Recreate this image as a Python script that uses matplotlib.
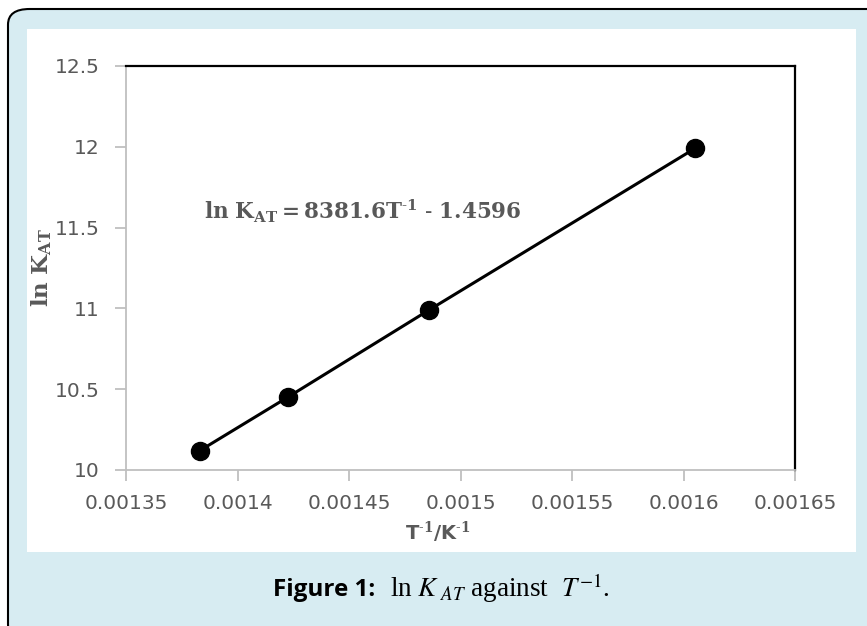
import matplotlib
matplotlib.use("Agg")
import matplotlib.pyplot as plt
from matplotlib.patches import FancyBboxPatch, Rectangle

# Data
inv_T = [1/723, 1/703, 1/673, 1/623]
ln_K = [10.12, 10.45, 10.99, 11.99]
x_ticks = [0.00135, 0.0014, 0.00145, 0.0015, 0.00155, 0.0016, 0.00165]
x_tick_labels = ["0.00135", "0.0014", "0.00145", "0.0015", "0.00155", "0.0016", "0.00165"]
y_ticks = [10, 10.5, 11, 11.5, 12, 12.5]
y_tick_labels = ["10", "10.5", "11", "11.5", "12", "12.5"]
equation = r"$\mathbf{ln\ K_{AT} = 8381.6T^{\text{-}1}\ \text{-}\ 1.4596}$"

plt.rcParams['mathtext.fontset'] = 'custom'
plt.rcParams['mathtext.rm'] = 'DejaVu Serif'
plt.rcParams['mathtext.bf'] = 'DejaVu Serif:bold'
plt.rcParams['mathtext.it'] = 'DejaVu Serif:italic'

W, H = 867, 626
fig = plt.figure(figsize=(W/100, H/100), dpi=100)
fig.patch.set_facecolor('white')

def fx(px): return px / W
def fy(py): return 1 - py / H

blue = '#d7ecf2'
box = FancyBboxPatch((fx(8), fy(640)), fx(900), 631/H,
                     boxstyle="round,pad=0,rounding_size=0.025",
                     transform=fig.transFigure, facecolor=blue,
                     edgecolor='black', linewidth=1.5, zorder=0)
fig.patches.append(box)
fig.patches.append(Rectangle((fx(27), fy(552)), fx(856-27), (552-29)/H,
                             transform=fig.transFigure, facecolor='white',
                             edgecolor='none', zorder=1))

ax = fig.add_axes([fx(126), fy(470), fx(795-126), (470-66)/H])
ax.set_zorder(2)
ax.set_facecolor('white')
ax.plot(inv_T, ln_K, color='black', lw=2.2, marker='o', markersize=13,
        markerfacecolor='black', markeredgecolor='black')
ax.set_xlim(0.00135, 0.00165)
ax.set_ylim(10, 12.5)
ax.set_xticks(x_ticks)
ax.set_xticklabels(x_tick_labels)
ax.set_yticks(y_ticks)
ax.set_yticklabels(y_tick_labels)
gray = '#bfbfbf'
for s in ['top', 'right']:
    ax.spines[s].set_color('black')
    ax.spines[s].set_linewidth(1.6)
for s in ['left', 'bottom']:
    ax.spines[s].set_color(gray)
    ax.spines[s].set_linewidth(1.3)
ax.tick_params(axis='both', direction='out', length=8, width=1.3, color=gray,
               labelsize=14.5, labelcolor='#595959')
ax.tick_params(axis='y', pad=11)
ax.tick_params(axis='x', pad=9)

ax.text(0.001385, 11.60, equation, fontsize=15.5, color='#595959', va='center', ha='left')

fig.text(fx(42), fy(268), r"$\mathbf{ln\ K_{AT}}$", rotation=90, fontsize=16.5,
         color='#595959', ha='center', va='center')
fig.text(fx(438), fy(532), r"T$^{\mathbf{\text{-}1}}$/K$^{\mathbf{\text{-}1}}$", fontsize=14,
         fontweight='bold', color='#595959', ha='center', va='center')

# caption
fig.text(fx(273), fy(590), "Figure 1:", fontsize=17.5, fontweight='bold',
         family='Open Sans', color='black', ha='left', va='center')
fig.text(fx(390), fy(588), r"ln $K_{\ AT}$ against  $T^{-1}$.", fontsize=19.5,
         family='Liberation Serif', math_fontfamily='stix', color='black',
         ha='left', va='center')

fig.savefig('out.png', dpi=100, facecolor='white')
